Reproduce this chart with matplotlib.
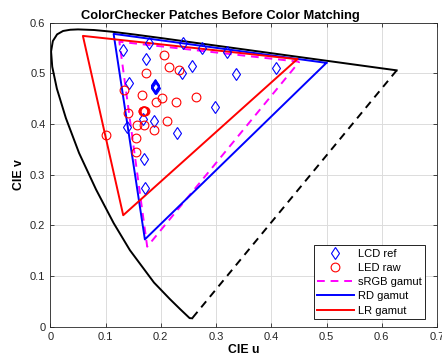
import matplotlib
matplotlib.use("Agg")
import matplotlib.pyplot as plt

plt.rcParams['font.family'] = ['Liberation Sans', 'DejaVu Sans']

# spectral locus (CIE 1976 u', v'), 380 -> 700 nm
locus_u = [0.2568, 0.2522, 0.2347, 0.2161, 0.1877, 0.1441, 0.1147, 0.0828, 0.0521,
           0.0282, 0.0119, 0.0035, 0.0014, 0.0046, 0.0123, 0.0231, 0.0360, 0.0501,
           0.0792, 0.1127, 0.1531, 0.2026, 0.2623, 0.3315, 0.4035, 0.5203, 0.6005, 0.6270]
locus_v = [0.0166, 0.0169, 0.0350, 0.0549, 0.0871, 0.1510, 0.2044, 0.2708, 0.3427,
           0.4117, 0.4698, 0.5131, 0.5432, 0.5638, 0.5770, 0.5837, 0.5861, 0.5868,
           0.5856, 0.5821, 0.5766, 0.5694, 0.5604, 0.5501, 0.5393, 0.5219, 0.5099, 0.5060]

# gamut triangles (R, G, B)
srgb_u = [0.4507, 0.1250, 0.1754]
srgb_v = [0.5229, 0.5625, 0.1579]
rd_u = [0.4998, 0.1146, 0.1712]
rd_v = [0.5207, 0.5780, 0.1723]
lr_u = [0.4470, 0.0590, 0.1320]
lr_v = [0.5280, 0.5740, 0.2200]

# ColorChecker patches
lcd_u = [0.1320, 0.1785, 0.1731, 0.2405, 0.2752, 0.3204, 0.2571, 0.2387, 0.3367, 0.4090,
         0.1429, 0.1893, 0.1902, 0.1899, 0.1890, 0.1908, 0.1897, 0.2984, 0.1682, 0.1881,
         0.1392, 0.2291, 0.1700, 0.1712]
lcd_v = [0.5471, 0.5606, 0.5290, 0.5606, 0.5507, 0.5428, 0.5136, 0.5014, 0.4990, 0.5097,
         0.4801, 0.4757, 0.4718, 0.4738, 0.4748, 0.4708, 0.4767, 0.4327, 0.4091, 0.4063,
         0.3945, 0.3815, 0.3308, 0.2730]
led_u = [0.2056, 0.2146, 0.2333, 0.1731, 0.1338, 0.1653, 0.2025, 0.1906, 0.2268, 0.2629,
         0.1400, 0.1694, 0.1676, 0.1712, 0.1703, 0.1685, 0.2105, 0.1562, 0.1694, 0.1881,
         0.1002, 0.1550, 0.1544]
led_v = [0.5357, 0.5128, 0.5063, 0.4998, 0.4669, 0.4570, 0.4517, 0.4426, 0.4426, 0.4536,
         0.4221, 0.4260, 0.4260, 0.4260, 0.4254, 0.4264, 0.4063, 0.3978, 0.3978, 0.3880,
         0.3781, 0.3716, 0.3452]

fig = plt.figure(figsize=(4.42, 3.64), dpi=100)
ax = fig.add_axes([0.1138, 0.1025, 0.8749, 0.8351])

ax.plot(locus_u, locus_v, color='k', lw=1.4)
ax.plot([locus_u[-1], locus_u[0]], [locus_v[-1], locus_v[0]], color='k', lw=1.4, ls=(0, (4, 3)))

ax.plot(lcd_u, lcd_v, 'd', mfc='none', mec='b', ms=6.3, mew=0.8, label='LCD ref', zorder=5)
ax.plot(led_u, led_v, 'o', mfc='none', mec='r', ms=6.3, mew=0.8, label='LED raw', zorder=5)
ax.plot(srgb_u + srgb_u[:1], srgb_v + srgb_v[:1], color='#ff00ff', lw=1.4, ls=(0, (4, 3)), label='sRGB gamut')
ax.plot(rd_u + rd_u[:1], rd_v + rd_v[:1], color='b', lw=1.4, label='RD gamut')
ax.plot(lr_u + lr_u[:1], lr_v + lr_v[:1], color='r', lw=1.4, label='LR gamut')

ax.set_xlim(0, 0.7)
ax.set_ylim(0, 0.6)
ax.set_xticks([0, 0.1, 0.2, 0.3, 0.4, 0.5, 0.6, 0.7])
ax.set_xticklabels(['0', '0.1', '0.2', '0.3', '0.4', '0.5', '0.6', '0.7'])
ax.set_yticks([0, 0.1, 0.2, 0.3, 0.4, 0.5, 0.6])
ax.set_yticklabels(['0', '0.1', '0.2', '0.3', '0.4', '0.5', '0.6'])
ax.grid(True, color='#dcdcdc', lw=0.7)
ax.set_axisbelow(True)
ax.tick_params(direction='in', top=True, right=True, labelsize=8, colors='#262626',
               labelcolor='#262626', length=3, width=0.6)
for s in ax.spines.values():
    s.set_color('#262626')
    s.set_linewidth(0.6)

ttl = ax.set_title('ColorChecker Patches Before Color Matching', fontsize=9.3, fontweight='bold', pad=3)
ttl.set_x(0.44)
ax.set_xlabel('CIE u', fontsize=8.8, fontweight='bold', labelpad=2)
ax.set_ylabel('CIE v', fontsize=8.8, fontweight='bold', labelpad=4)

leg = ax.legend(loc='lower right', fontsize=8, fancybox=False, framealpha=1,
                edgecolor='k', borderpad=0.3, labelspacing=0.38, handlelength=3.3,
                handletextpad=0.4, borderaxespad=0.7, bbox_to_anchor=(0.99, 0.0))
leg.get_frame().set_linewidth(0.6)

fig.savefig('out.png', dpi=100)
